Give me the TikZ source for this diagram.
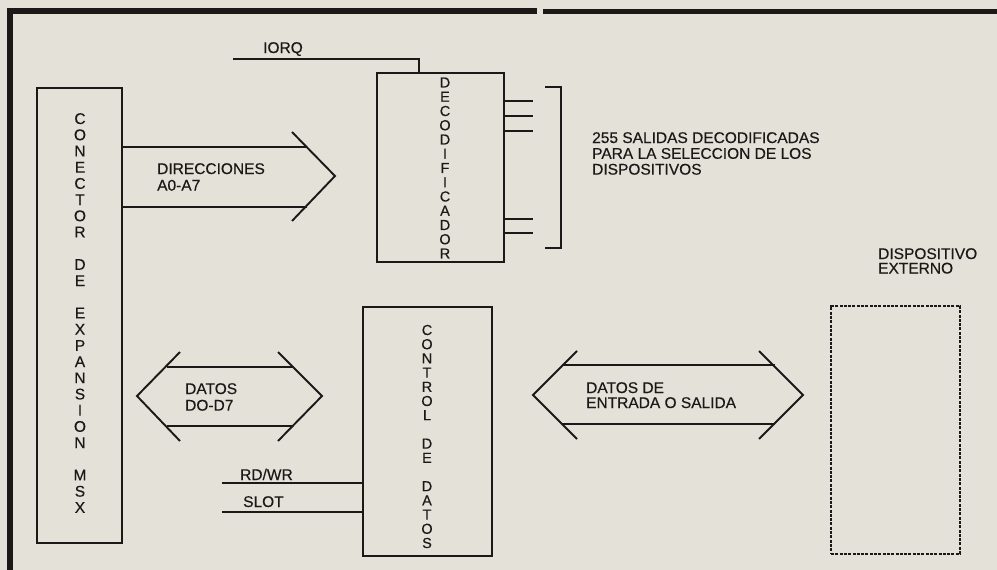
\documentclass[tikz,border=0pt]{standalone}
\usepackage{fontspec}
\setmainfont[FakeBold=0.35]{Liberation Sans}
\definecolor{paper}{RGB}{228,225,217}
\definecolor{ink}{RGB}{28,24,24}
\begin{document}
\begin{tikzpicture}[x=1pt,y=-1pt,
  line/.style={draw=ink,line width=1.9pt,line join=miter},
  box/.style={draw=ink,line width=1.7pt,rectangle,inner sep=0pt},
  lbl/.style={anchor=north west,inner sep=0pt,align=left,text=ink,font=\fontsize{15.5}{16}\selectfont},
  vlbl/.style={inner sep=0pt,align=center,text=ink},
]
\fill[paper] (0,0) rectangle (997,570);
\useasboundingbox (0,0) rectangle (997,570);

% outer frame
\draw[ink,line width=5.5pt] (10,570) -- (10,11) -- (537,11);
\draw[ink,line width=5pt] (543,11) -- (997,11);

% boxes
\node[box,minimum width=85pt,minimum height=455pt] (con) at (79.5,315.5) {};
\node[vlbl,font=\fontsize{15.5}{16.2}\selectfont] (contxt) at (80,313) {C\\O\\N\\E\\C\\T\\O\\R\\~\\D\\E\\~\\E\\X\\P\\A\\N\\S\\I\\O\\N\\~\\M\\S\\X};

\node[box,minimum width=127pt,minimum height=189pt] (dec) at (440.5,167.5) {};
\node[vlbl,font=\fontsize{14.5}{14.25}\selectfont] (dectxt) at (445,168) {D\\E\\C\\O\\D\\I\\F\\I\\C\\A\\D\\O\\R};

\node[box,minimum width=129pt,minimum height=249pt] (ctl) at (427.5,431.5) {};
\node[vlbl,font=\fontsize{14.5}{14.2}\selectfont] (ctltxt) at (427,436.5) {C\\O\\N\\T\\R\\O\\L\\~\\D\\E\\~\\D\\A\\T\\O\\S};

\node[box,line width=2.1pt,dash pattern=on 3pt off 1.3pt,minimum width=129pt,minimum height=248pt] (ext) at (895.5,430) {};
\node[lbl,font=\fontsize{15.5}{14.5}\selectfont] (exttxt) at (878,248) {DISPOSITIVO\\EXTERNO};

% IORQ
\coordinate (iorqL) at (233,59);
\coordinate (iorqC) at (419,59);
\draw[line] (iorqL) -- (iorqC) -- (iorqC |- dec.north);
\node[lbl,anchor=base west] (iorq) at (263,53) {IORQ};

% decoded outputs
\foreach \yy in {101,116,131,219,233}
  \draw[line] (dec.east |- 0,\yy) -- (533,\yy);
\draw[line,line width=2.1pt] (545,87) -- (561,87) -- (561,248) -- (545,248);
\node[lbl,font=\fontsize{15.5}{15.8}\selectfont] (salidas) at (592,132) {255 SALIDAS DECODIFICADAS\\PARA LA SELECCION DE LOS\\DISPOSITIVOS};

% address bus
\draw[line] (con.east |- 0,147) -- (307,147);
\draw[line] (con.east |- 0,207) -- (307,207);
\draw[line] (292,132) -- (335,176) -- (292,221);
\node[lbl,font=\fontsize{15.5}{16.6}\selectfont] (dir) at (157,163) {DIRECCIONES\\A0-A7};

% data bus D0-D7
\draw[line] (167,367) -- (293,367);
\draw[line] (167,426) -- (293,426);
\draw[line] (180,352) -- (137,396) -- (180,441);
\draw[line] (278,352) -- (322,396) -- (278,441);
\node[lbl,font=\fontsize{15.5}{16.6}\selectfont] (datos) at (185,383) {DATOS\\DO-D7};

% control lines
\draw[line] (222,483) -- (ctl.west |- 0,483);
\draw[line] (222,512) -- (ctl.west |- 0,512);
\node[lbl,anchor=base west] (rdwr) at (240,480) {RD/WR};
\node[lbl,anchor=base west] (slot) at (243,507) {SLOT};

% I/O data bus
\draw[line] (562,365) -- (775,365);
\draw[line] (562,424) -- (775,424);
\draw[line] (577,351) -- (533,395) -- (577,439);
\draw[line] (759,351) -- (803,395) -- (759,439);
\node[lbl,font=\fontsize{15.5}{15}\selectfont] (io) at (586,382) {DATOS DE\\ENTRADA O SALIDA};
\end{tikzpicture}
\end{document}
